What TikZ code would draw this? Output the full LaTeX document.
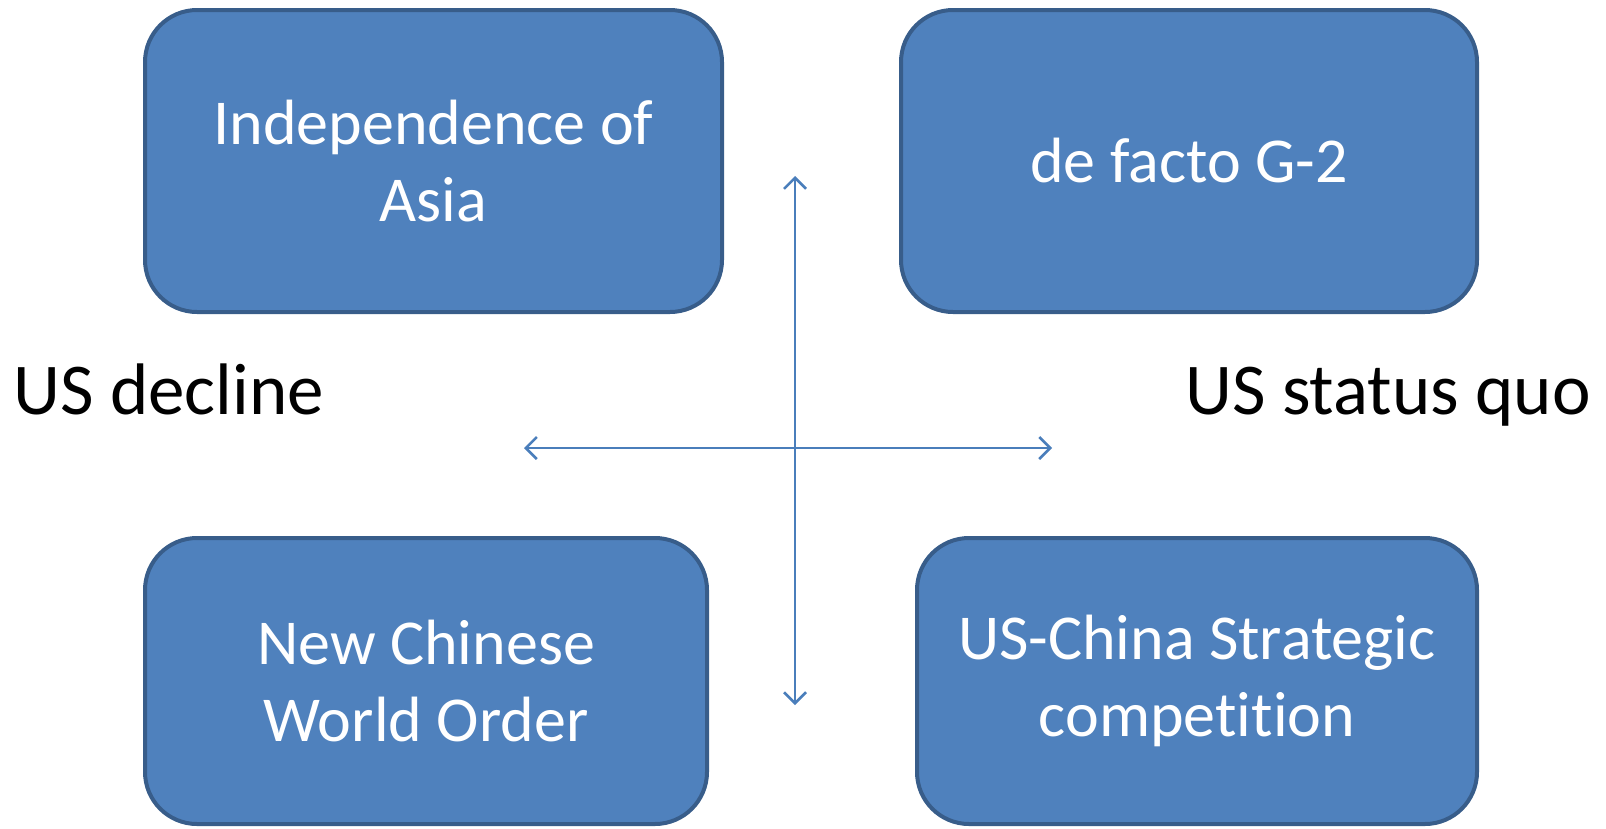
\documentclass[tikz,border=0pt]{standalone}
\usepackage{fontspec}
\setmainfont[Ligatures=NoCommon]{Carlito}
\usepackage{tikz}
\usetikzlibrary{positioning,arrows.meta}

\definecolor{boxfill}{HTML}{4F81BD}
\definecolor{boxline}{HTML}{385D8A}
\definecolor{axisline}{HTML}{4A7EBB}

\begin{document}
\begin{tikzpicture}[x=1pt, y=-1pt,
  scen/.style={draw=boxline, line width=4pt, fill=boxfill, rounded corners=52pt, align=center, text=white, font=\fontsize{64}{77}\selectfont},
  side/.style={font=\fontsize{73}{80}\selectfont, inner sep=0pt},
  axis/.style={{Straight Barb[length=11pt, width=22pt, line width=2.5pt]}-{Straight Barb[length=11pt, width=22pt, line width=2.5pt]}, draw=axisline, line width=2.5pt}]
  \useasboundingbox (0,0) rectangle (1606,828);
  \node[scen, minimum width=577pt, minimum height=302pt] (asia) at (433.5,161) {Independence of\\Asia};
  \node[scen, minimum width=576pt, minimum height=302pt] (g2) at (1189,161) {de facto G-2};
  \node[scen, minimum width=562pt, minimum height=286pt] (order) at (426,681) {New Chinese\\World Order};
  \node[scen, minimum width=560pt, minimum height=286pt] (rivalry) at (1197,681) {US-China Strategic\\competition};
  \node[side, anchor=base west] (decline) at (13,414) {US decline};
  \node[side, anchor=base east] (quo) at (1591,414) {US status quo};
  % axes
  \coordinate (up) at (795,176);
  \coordinate (down) at (795,705);
  \coordinate (left) at (524,448);
  \coordinate (right) at (1052,448);
  \draw[axis] (up) -- (down);
  \draw[axis] (left) -- (right);
\end{tikzpicture}
\end{document}
